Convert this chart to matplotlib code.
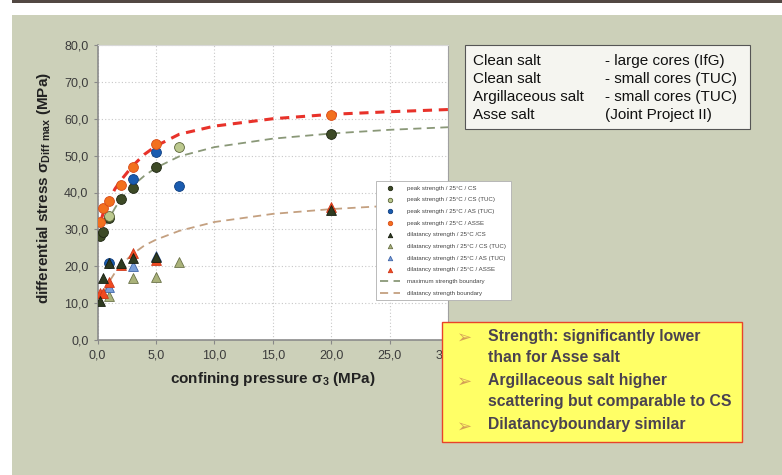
import matplotlib
matplotlib.use("Agg")
import matplotlib.pyplot as plt
from matplotlib.patches import Rectangle

plt.rcParams["font.family"] = ["Liberation Sans", "DejaVu Sans"]
plt.rcParams["mathtext.default"] = "regular"

# peak strength (circles)
peak_cs_x = [0.2, 0.5, 1, 2, 3, 5, 20]
peak_cs_y = [28.3, 29.4, 33.0, 38.3, 41.2, 46.8, 56.0]
peak_cs_tuc_x = [1, 7]
peak_cs_tuc_y = [33.5, 52.3]
peak_as_tuc_x = [1, 3, 5, 7]
peak_as_tuc_y = [21.0, 43.6, 51.0, 41.8]
peak_asse_x = [0.2, 0.5, 1, 2, 3, 5, 20]
peak_asse_y = [32.0, 35.8, 37.6, 42.0, 46.8, 53.2, 61.0]

# dilatancy strength (triangles)
dil_cs_x = [0.2, 0.5, 1, 2, 3, 5, 20]
dil_cs_y = [10.7, 16.8, 20.8, 21.0, 22.2, 22.5, 35.3]
dil_cs_tuc_x = [1, 3, 5, 7]
dil_cs_tuc_y = [11.8, 16.7, 17.0, 21.2]
dil_as_tuc_x = [1, 3, 5]
dil_as_tuc_y = [14.5, 20.2, 22.8]
dil_asse_x = [0.2, 0.5, 1, 2, 3, 5, 20]
dil_asse_y = [12.8, 12.8, 15.6, 20.3, 23.6, 21.7, 36.0]

# boundaries
asse_bound_x = [0.3, 0.5, 1, 1.5, 2, 3, 4, 5, 7, 10, 15, 20, 25, 30]
asse_bound_y = [32.5, 34.5, 38.0, 41.0, 43.3, 47.2, 50.3, 52.6, 55.8, 58.0, 60.0, 61.2, 61.9, 62.5]
max_bound_x = [0.3, 0.5, 1, 1.5, 2, 3, 4, 5, 7, 10, 15, 20, 25, 30]
max_bound_y = [28.0, 29.5, 33.0, 35.8, 38.3, 41.8, 44.5, 46.7, 49.8, 52.3, 54.6, 56.0, 57.0, 57.7]
dil_bound_x = [0.5, 1, 1.5, 2, 3, 4, 5, 7, 10, 15, 20, 25, 30]
dil_bound_y = [13.0, 15.8, 18.3, 20.3, 23.3, 25.6, 27.2, 29.6, 32.0, 34.2, 35.5, 36.4, 37.0]

x_ticks = [0, 5, 10, 15, 20, 25, 30]
y_ticks = [0, 10, 20, 30, 40, 50, 60, 70, 80]

info_left = ["Clean salt", "Clean salt", "Argillaceous salt", "Asse salt"]
info_right = ["- large cores (IfG)", "- small cores (TUC)", "- small cores (TUC)", "(Joint Project II)"]

bullets = [
    "Strength: significantly lower\nthan for Asse salt",
    "Argillaceous salt higher\nscattering but comparable to CS",
    "Dilatancyboundary similar",
]

W, H = 782, 475
fig = plt.figure(figsize=(W / 100, H / 100), dpi=100, facecolor="white")

# slide background
fig.patches.append(Rectangle((12 / W, 0), 1, (H - 15) / H, transform=fig.transFigure,
                             facecolor="#ccd0b9", edgecolor="none", zorder=-5))
fig.patches.append(Rectangle((12 / W, 1 - 2.5 / H), 1, 2.5 / H, transform=fig.transFigure,
                             facecolor="#524843", edgecolor="none", zorder=-5))

ax = fig.add_axes([97.5 / W, 1 - 340 / H, 350.5 / W, 295 / H])
ax.set_facecolor("white")

ax.plot(asse_bound_x, asse_bound_y, color="#e8322a", lw=2.2, dashes=(3, 2.2), zorder=2)
ax.plot(max_bound_x, max_bound_y, color="#8a9878", lw=1.3, dashes=(4.5, 3),
        label="maximum strength boundary", zorder=2)
ax.plot(dil_bound_x, dil_bound_y, color="#c4a080", lw=1.3, dashes=(4.5, 3),
        label="dilatancy strength boundary", zorder=2)

ms = 50
ax.scatter(peak_cs_x, peak_cs_y, s=ms, marker="o", color="#3d4a26", edgecolor="#1e2612",
           lw=0.6, label="peak strength / 25°C / CS", zorder=3)
ax.scatter(peak_cs_tuc_x, peak_cs_tuc_y, s=ms, marker="o", color="#bcc98f", edgecolor="#5a6438",
           lw=0.6, label="peak strength / 25°C / CS (TUC)", zorder=3)
ax.scatter(peak_as_tuc_x, peak_as_tuc_y, s=ms, marker="o", color="#1a5cb0", edgecolor="#0e3e80",
           lw=0.6, label="peak strength / 25°C / AS (TUC)", zorder=3)
ax.scatter(peak_asse_x, peak_asse_y, s=ms, marker="o", color="#f2701e", edgecolor="#d84a18",
           lw=0.6, label="peak strength / 25°C / ASSE", zorder=3)
ax.scatter(dil_cs_tuc_x, dil_cs_tuc_y, s=ms, marker="^", color="#aab27a", edgecolor="#6a7248",
           lw=0.6, label="dilatancy strength / 25°C / CS (TUC)", zorder=3)
ax.scatter(dil_as_tuc_x, dil_as_tuc_y, s=ms, marker="^", color="#7a9fd8", edgecolor="#3e64a8",
           lw=0.6, label="dilatancy strength / 25°C / AS (TUC)", zorder=3)
ax.scatter(dil_asse_x, dil_asse_y, s=ms, marker="^", color="#f04a20", edgecolor="#d0381a",
           lw=0.6, label="dilatancy strength / 25°C / ASSE", zorder=3)
ax.scatter(dil_cs_x, dil_cs_y, s=ms, marker="^", color="#2e3a20", edgecolor="#161c0e",
           lw=0.6, label="dilatancy strength / 25°C /CS", zorder=3)

ax.set_xlim(0, 30)
ax.set_ylim(0, 80)
ax.set_xticks(x_ticks)
ax.set_yticks(y_ticks)
ax.set_xticklabels([f"{v:.1f}".replace(".", ",") for v in x_ticks])
ax.set_yticklabels([f"{v:.1f}".replace(".", ",") for v in y_ticks])
ax.tick_params(axis="both", labelsize=9, colors="#3c3c3c", length=3, width=0.8,
               direction="out", pad=3.5)
ax.tick_params(axis="both", color="#888888")
ax.grid(True, color="#c8c8c8", lw=0.8, ls=(0, (1, 2)))
ax.set_axisbelow(True)
for side in ["left", "bottom"]:
    ax.spines[side].set_color("#8c8c8c")
    ax.spines[side].set_linewidth(1.2)
ax.spines["right"].set_color("#a0a0a0")
ax.spines["top"].set_color("#d8d8d8")

ax.set_xlabel(r"confining pressure $\sigma_3$ (MPa)", fontsize=11, fontweight="bold",
              color="#222222", va="center")
ax.xaxis.set_label_coords(0.5, (340 - 379) / 295)
ax.set_ylabel(r"differential stress $\sigma_{Diff\ max}$ (MPa)", fontsize=11,
              fontweight="bold", color="#222222", va="center")
ax.yaxis.set_label_coords((44 - 97.5) / 350.5, (340 - 188) / 295)

# legend in the original series order
h, l = ax.get_legend_handles_labels()
order = [2, 3, 4, 5, 9, 6, 7, 8, 0, 1]
leg = ax.legend([h[i] for i in order], [l[i] for i in order], loc="upper left",
                bbox_to_anchor=(373 / W, 1 - 178 / H), bbox_transform=fig.transFigure,
                fontsize=4.4, markerscale=0.45, labelspacing=1.05, handlelength=3.2,
                handletextpad=1.2, borderpad=0.7, frameon=True, fancybox=False,
                edgecolor="#b0b0b0", framealpha=1)
leg.get_frame().set_linewidth(0.6)
for t in leg.get_texts():
    t.set_color("#444444")

# info box top right
fig.patches.append(Rectangle((465 / W, 1 - 128.5 / H), 284.5 / W, 83.5 / H,
                             transform=fig.transFigure, facecolor="#f5f5f0",
                             edgecolor="#555555", lw=0.8, zorder=5))
for i, (a, b) in enumerate(zip(info_left, info_right)):
    yy = 1 - (61 + i * 18) / H
    fig.text(473 / W, yy, a, fontsize=11, color="#111111", va="center", zorder=6)
    fig.text(605 / W, yy, b, fontsize=11, color="#111111", va="center", zorder=6)

# yellow summary box
fig.patches.append(Rectangle((441.5 / W, 1 - 441.5 / H), 300 / W, 120 / H,
                             transform=fig.transFigure, facecolor="#ffff66",
                             edgecolor="#e8432a", lw=1.0, zorder=5))
line_y = [337.5, 381.5, 426.5]
for txt, yy in zip(bullets, line_y):
    fig.text(457 / W, 1 - yy / H, "\u27a2", fontsize=13, color="#d4a056",
             family=["DejaVu Sans"], va="center", zorder=6)
    fig.text(487.5 / W, 1 - (yy - 9) / H, txt, fontsize=11.3, fontweight="bold",
             color="#4a4250", va="top", linespacing=1.52, zorder=6)

fig.savefig("out.png", dpi=100)
